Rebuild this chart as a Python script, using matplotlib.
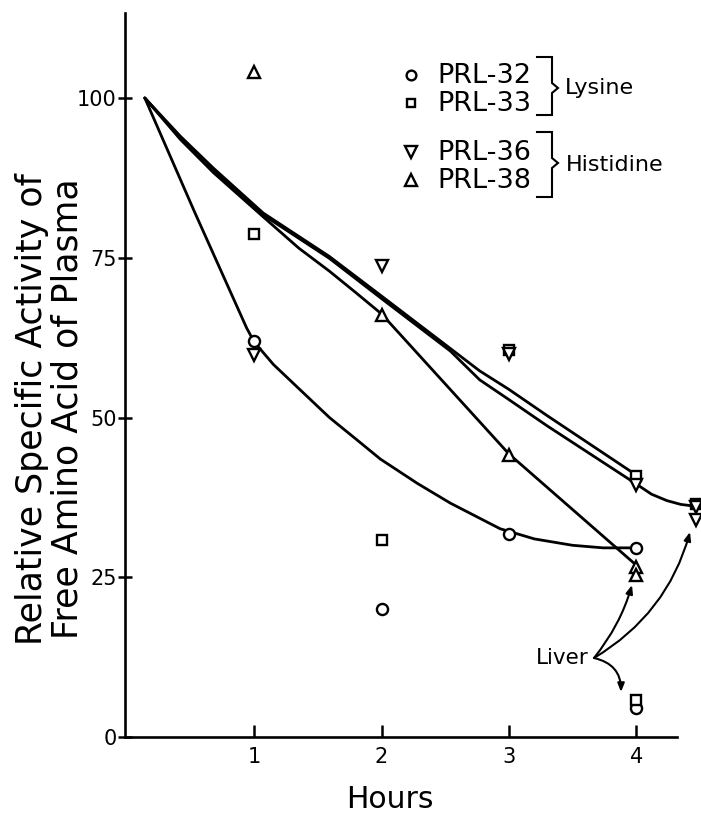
import matplotlib
matplotlib.use("Agg")
import matplotlib.pyplot as plt

plt.rcParams['font.family'] = ['DejaVu Sans']

# ---------------- data ----------------
# plasma points
hours_32 = [1, 2, 3, 4]
prl32 = [62.0, 20.1, 31.7, 29.5]
hours_33 = [1, 2, 3, 4, 4.47]
prl33 = [78.7, 30.8, 60.5, 40.9, 36.5]
hours_36 = [1, 2, 3, 4, 4.47]
prl36 = [59.8, 73.7, 60.0, 39.4, 36.0]
hours_38 = [1, 2, 3, 4]
prl38 = [104.0, 66.1, 44.2, 26.6]

# liver points
liver_hours = [4, 4, 4.47, 4]
liver_vals = [4.5, 5.8, 34.0, 25.3]
liver_markers = ['o', 's', 'v', '^']

# hand-drawn fitted curves (nodes)
fit32_x = [0.14, 0.53, 0.94, 1.0, 1.15, 1.33, 1.59, 1.80, 1.99, 2.28, 2.54, 2.93, 3.2, 3.5, 3.74, 3.95]
fit32_y = [100, 82.2, 64.0, 61.8, 58.3, 54.9, 50.0, 46.6, 43.5, 39.7, 36.6, 32.6, 31.0, 30.0, 29.6, 29.6]
fit33_x = [0.14, 0.42, 0.68, 1.07, 1.59, 2.0, 2.54, 2.77, 3.0, 3.3, 4.0]
fit33_y = [100, 94.0, 89.0, 82.0, 75.2, 69.0, 60.8, 57.3, 54.4, 50.3, 41.0]
fit36_x = [0.14, 0.42, 0.68, 1.07, 1.59, 2.0, 2.54, 2.77, 3.0, 3.3, 4.0, 4.12, 4.24, 4.35, 4.47]
fit36_y = [100, 93.7, 88.6, 81.7, 74.9, 68.6, 60.4, 55.9, 52.8, 48.7, 39.6, 38.0, 37.0, 36.4, 36.1]
fit38_x = [0.14, 0.42, 0.68, 1.07, 1.35, 1.59, 1.8, 2.0, 3.0, 4.0]
fit38_y = [100, 93.5, 88.3, 81.4, 76.5, 72.9, 69.5, 66.2, 44.3, 26.9]

legend_labels = ['PRL-32', 'PRL-33', 'PRL-36', 'PRL-38']
legend_markers = ['o', 's', 'v', '^']
group_labels = ['Lysine', 'Histidine']

x_ticks = [1, 2, 3, 4]
y_ticks = [0, 25, 50, 75, 100]

# ---------------- figure ----------------
W, H = 701, 816
fig = plt.figure(figsize=(W / 100, H / 100), dpi=100)
ax_left, ax_right, ax_bot, ax_top = 125, 701, 737, 3
ax = fig.add_axes([ax_left / W, (H - ax_bot) / H, (ax_right - ax_left) / W, (ax_bot - ax_top) / H])
ax.set_xlim(-2 / 127.3, (701 - 127) / 127.3)
ax.set_ylim(0, 734 / 6.39)

for s in ['top', 'right']:
    ax.spines[s].set_visible(False)
ax.spines['left'].set_linewidth(1.9)
ax.spines['bottom'].set_linewidth(1.9)
ax.spines['left'].set_bounds(0, 113.3)
ax.spines['bottom'].set_bounds(-2 / 127.3, 4.32)

ax.set_xticks(x_ticks)
ax.set_xticklabels([str(t) for t in x_ticks])
ax.set_yticks(y_ticks)
ax.set_yticklabels([str(t) for t in y_ticks])
ax.tick_params(axis='x', direction='in', length=9, width=1.8, pad=7, labelsize=15)
ax.tick_params(axis='y', direction='inout', length=10, width=1.8, pad=1, labelsize=15)

lw = 2.0
mk = dict(color='black', markerfacecolor='white', markeredgecolor='black',
          markeredgewidth=1.7, linestyle='none', clip_on=False, zorder=4)

# curves
for fx, fy in [(fit32_x, fit32_y), (fit33_x, fit33_y), (fit36_x, fit36_y), (fit38_x, fit38_y)]:
    ax.plot(fx, fy, color='black', lw=lw, solid_capstyle='round', solid_joinstyle='round', zorder=3)

# points
ax.plot(hours_32, prl32, marker='o', markersize=8, **mk)
ax.plot(hours_33, prl33, marker='s', markersize=7, **mk)
ax.plot(hours_36, prl36, marker='v', markersize=9, **mk)
ax.plot(hours_38, prl38, marker='^', markersize=9, **mk)
for hx, hv, m in zip(liver_hours, liver_vals, liver_markers):
    ax.plot([hx], [hv], marker=m, markersize=(8 if m == 'o' else 7 if m == 's' else 9), **mk)

# pixel -> data helper (image pixel coords, y downward)
inv = ax.transData.inverted()
def P(px, py):
    return tuple(inv.transform((px, H - py)))

# legend
leg_y = [75, 103, 152, 180]
for lab, m, yy in zip(legend_labels, legend_markers, leg_y):
    ax.plot(*[[v] for v in P(411, yy)], marker=m,
            markersize=(7 if m == 'o' else 6 if m == 's' else 8), **mk)
    ax.text(*P(437, yy + 1), lab, fontsize=19.5, ha='left', va='center')

def bracket(ytop, ybot, ymid):
    pts = [P(537, ytop), P(552, ytop), P(552, ymid - 5), P(558, ymid), P(552, ymid + 5),
           P(552, ybot), P(537, ybot)]
    ax.plot([p[0] for p in pts], [p[1] for p in pts], color='black', lw=1.5,
            clip_on=False, solid_joinstyle='miter')

bracket(57, 115, 88)
bracket(132, 197, 163)
ax.text(*P(565, 88), group_labels[0], fontsize=16, ha='left', va='center')
ax.text(*P(566, 165), group_labels[1], fontsize=16, ha='left', va='center')

# liver annotation
ax.text(*P(589, 658), 'Liver', fontsize=15.5, ha='right', va='center')
start = P(594, 658)
for tgt, rad in [((632, 585), 0.1), ((690, 532), 0.2), ((621, 692), -0.4)]:
    ax.annotate('', xy=P(*tgt), xytext=start,
                arrowprops=dict(arrowstyle='-|>,head_length=0.5,head_width=0.2', color='black',
                                lw=1.5, shrinkA=0, shrinkB=0,
                                connectionstyle='arc3,rad=%s' % rad),
                annotation_clip=False)

# axis labels
ax.set_ylabel('Relative Specific Activity of\nFree Amino Acid of Plasma', fontsize=25,
              linespacing=1.05, va='center', ha='center')
ax.yaxis.set_label_coords((50 - ax_left) / (ax_right - ax_left), (ax_bot - 409) / (ax_bot - ax_top))
ax.set_xlabel('Hours', fontsize=21.5, va='baseline')
ax.xaxis.set_label_coords((390 - ax_left) / (ax_right - ax_left), (ax_bot - 808) / (ax_bot - ax_top))

fig.savefig('out.png', dpi=100)
